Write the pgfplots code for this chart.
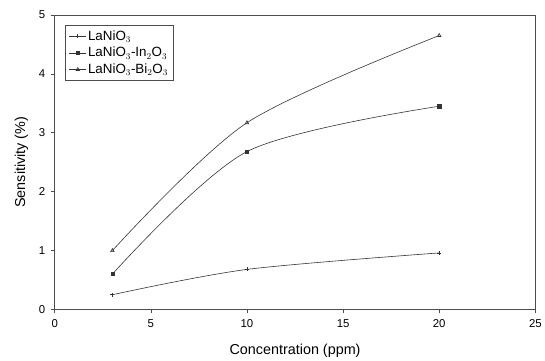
\documentclass[border=0pt]{standalone}
\usepackage{pgfplots}
\pgfplotsset{compat=1.18}
\usepackage{fontspec}
\setmainfont{Liberation Sans}
\begin{document}
\begin{tikzpicture}
\begin{axis}[
  scale only axis,
  width=483bp, height=296bp,
  xmin=0, xmax=25, ymin=0, ymax=5,
  xtick={0,5,10,15,20,25},
  ytick={0,1,2,3,4,5},
  tick align=outside,
  tick pos=left,
  major tick length=4bp,
  /pgf/number format/assume math mode=true,
  tick label style={font=\fontsize{11.5}{13}\selectfont},
  xticklabel style={yshift=-3bp},
  yticklabel style={xshift=-2bp},
  label style={font=\fontsize{14.5}{17}\selectfont},
  xlabel={Concentration (ppm)},
  ylabel={Sensitivity (\%)},
  xlabel style={yshift=-9bp},
  ylabel style={yshift=4bp},
  axis line style={black!70, line width=0.5pt},
  every tick/.style={black!70, line width=0.5pt},
  legend style={at={(0.021,0.966)}, anchor=north west, font=\fontsize{13.5}{16}\selectfont,
    draw=black!70, line width=0.4pt, inner xsep=4bp, inner ysep=4bp, row sep=2.5bp,
    nodes={inner sep=1.5bp}},
  legend cell align=left,
  legend image code/.code={
    \draw[#1, mark repeat=2, mark phase=2] plot coordinates {(0cm,0cm) (0.3cm,0cm) (0.6cm,0cm)};
  },
  extra description/.code={
    \path (rel axis cs:0,0) ++(-55bp,-49bp);
    \path (rel axis cs:1,1) ++(7bp,15bp);
  },
]
\addplot[black!80, line width=0.6pt, smooth, mark=+, mark size=2pt, mark options={solid}]
  coordinates {(3,0.25) (10,0.68) (20,0.96)};
\addlegendentry{LaNiO$_3$}
\addplot[black!80, line width=0.6pt, smooth, mark=square*, mark size=1.6pt]
  coordinates {(3,0.60) (10,2.68) (20,3.45)};
\addlegendentry{LaNiO$_3$-In$_2$O$_3$}
\addplot[black!80, line width=0.6pt, smooth, mark=triangle, mark size=2pt]
  coordinates {(3,1.00) (10,3.17) (20,4.65)};
\addlegendentry{LaNiO$_3$-Bi$_2$O$_3$}
\end{axis}
\end{tikzpicture}
\end{document}
